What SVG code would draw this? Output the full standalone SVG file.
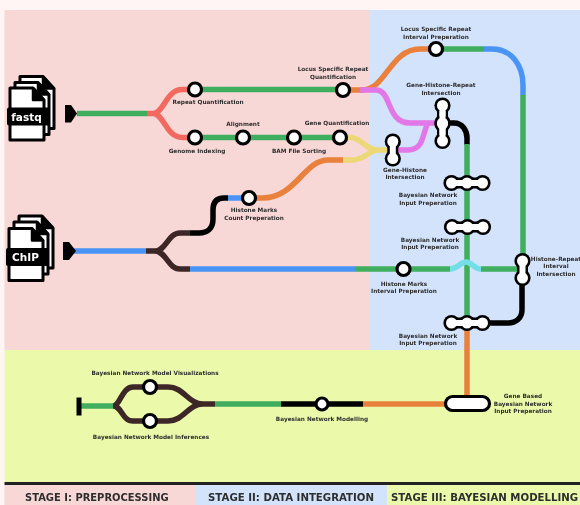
<svg xmlns="http://www.w3.org/2000/svg" width="580" height="505" viewBox="0 0 580 505">
<style>
text{font-family:"DejaVu Sans",sans-serif;font-weight:bold;fill:#2e2e2e;font-size:5.75px;text-anchor:middle}
.st{font-size:10.2px;text-anchor:start}
.fl{font-size:10.5px;fill:#fff}
path.l{fill:none;stroke-width:5.5}
.g{stroke:#41ae5f}.r{stroke:#f26a5f}.o{stroke:#e9803a}.b{stroke:#4a94f5}.k{stroke:#000}.m{stroke:#e277e8}.y{stroke:#ecd877}.d{stroke:#3d2828}.c{stroke:#72dfe6}
.n{fill:#fff;stroke:#000;stroke-width:3.2}
.kf{fill:#000}
.nf{fill:#fff}
.doc{fill:#fff;stroke:#000;stroke-width:3;stroke-linejoin:round}
</style>
<defs>
<filter id="soft" x="0" y="0" width="100%" height="100%"><feGaussianBlur stdDeviation="0.45"/></filter>
<g id="page"><path class="doc" d="M0 0H23L34 12V52H0Z"/><path d="M23 0L34 12H23Z" fill="#000" stroke="#000" stroke-width="2.500" stroke-linejoin="round"/></g>
<g id="n3h">
<circle cx="-15.500" r="8.100" class="kf"/><circle r="8.100" class="kf"/><circle cx="15.500" r="8.100" class="kf"/><rect x="-15" y="-5.500" width="30" height="11" class="kf"/>
<circle cx="-15.500" r="5.500" class="nf"/><circle r="5.500" class="nf"/><circle cx="15.500" r="5.500" class="nf"/><rect x="-15" y="-3" width="30" height="6" class="nf"/>
</g>
<g id="n2v">
<circle cy="-8.500" r="8.100" class="kf"/><circle cy="8.500" r="8.100" class="kf"/><rect x="-5.500" y="-8" width="11" height="16" class="kf"/>
<circle cy="-8.500" r="5.500" class="nf"/><circle cy="8.500" r="5.500" class="nf"/><rect x="-3" y="-8" width="6" height="16" class="nf"/>
</g>
<g id="n3v">
<use href="#n2v" y="-9"/><use href="#n2v" y="9.500"/>
<rect x="-3" y="-12" width="6" height="24" class="nf"/>
<circle r="5.500" class="nf"/>
</g>
</defs>
<g filter="url(#soft)">
<rect width="580" height="505" fill="#fff5f5"/>
<rect x="4.500" y="10" width="365" height="340" fill="#f8d7d7"/>
<rect x="369" y="10" width="211" height="340" fill="#d3e3fb"/>
<rect x="4.500" y="350" width="575.500" height="132" fill="#ebf9ab"/>
<rect x="4.500" y="482" width="575.500" height="3" fill="#222"/>
<rect x="4.500" y="485" width="192" height="20" fill="#f8d7d7"/>
<rect x="196" y="485" width="191" height="20" fill="#d3e3fb"/>
<rect x="387" y="485" width="193" height="20" fill="#ebf9ab"/>

<g id="connectors">
<path class="l g" d="M77 113.500H147"/>
<path class="l r" d="M147 113.500H153C164 113.500 166 89.500 182 89.500H195M153 113.500C164 113.500 166 137.500 182 137.500H195"/>
<path class="l g" d="M195 89.500H343M195 137.500H340"/>
<path class="l o" d="M343 90H362C386 90 390 49 420 49H437"/>
<path class="l g" d="M437 49H484"/>
<path class="l b" d="M484 49H492C512 49 523 66 523 85V95"/>
<path class="l g" d="M523 95V260"/>
<path class="l m" d="M360 90H376C392 90 386 123 410 123H442"/>
<path class="l m" d="M393 150H408C424 150 422 134 428 123"/>
<path class="l k" d="M442 123H454C462 123 467 130 467 138V145"/>
<path class="l g" d="M467 144V331"/>
<path class="l y" d="M340 137.500H350C362 137.500 365 150 378 150H393"/>
<path class="l y" d="M342 160H352C366 160 368 150 378 150"/>
<path class="l o" d="M249 198H262C296 198 304 160 328 160H343"/>
<path class="l b" d="M228 198H249"/>
<path class="l k" d="M190 233H199C208 233 213 228 213 219V210C213 203 216 198 224 198H228"/>
<path class="l b" d="M74 251H146"/>
<path class="l d" d="M146 251H155C166 251 168 233 180 233H190M155 251C166 251 168 269 180 269H190"/>
<path class="l b" d="M190 269H355"/>
<path class="l g" d="M355 269H450M481 269H522"/>
<path class="l c" d="M450 269C458 269 460 262 466 262C472 262 474 269 481 269"/>
<path class="l k" d="M522 279V310C522 318 516 323 508 323H488"/>
<path class="l o" d="M467 330V400"/>
<path class="l o" d="M445 404H363"/>
<path class="l k" d="M281 404H363"/>
<path class="l g" d="M215 404H281"/>
<path class="l d" d="M215 404H203C188 404 184 387 168 387H133C122 387 120 406 113 406M203 404C188 404 184 421 168 421H133C122 421 122 406 113 406"/>
<path class="l g" d="M80 406H113"/>
</g>

<g id="fastq-input">
<use href="#page" x="20" y="76.500"/>
<use href="#page" x="15" y="82.500"/>
<use href="#page" x="10" y="88"/>
<rect x="7" y="107.500" width="43" height="18" rx="2" fill="#000"/>
<text class="fl" x="26.500" y="120.500">fastq</text>
<path d="M65 105H71L77 113.500L71 122.500H65Z" fill="#000"/>
</g>
<g id="chip-input">
<use href="#page" x="19" y="216"/>
<use href="#page" x="14" y="222"/>
<use href="#page" x="9" y="228.500"/>
<rect x="6" y="248" width="43" height="18" rx="2" fill="#000"/>
<text class="fl" x="25.500" y="261">ChIP</text>
<path d="M63 242H69L76 251L69 260H63Z" fill="#000"/>
</g>

<g id="n-repeat-quant"><circle class="n" cx="195" cy="89.500" r="6.500"/><text x="208" y="104">Repeat Quantification</text></g>
<g id="n-genome-index"><circle class="n" cx="195" cy="137.500" r="6.500"/><text x="197" y="153">Genome Indexing</text></g>
<g id="n-alignment"><circle class="n" cx="243" cy="137.500" r="6.500"/><text x="243" y="126">Alignment</text></g>
<g id="n-bam"><circle class="n" cx="294" cy="137.500" r="6.500"/><text x="299" y="153">BAM File Sorting</text></g>
<g id="n-gene-quant"><circle class="n" cx="340" cy="137.500" r="6.500"/><text x="337" y="125">Gene Quantification</text></g>
<g id="n-lsr-quant"><circle class="n" cx="343" cy="90" r="6.500"/><text x="333" y="71">Locus Specific Repeat</text><text x="333" y="78.500">Quantification</text></g>
<g id="n-lsr-interval"><circle class="n" cx="436" cy="49" r="6.500"/><text x="436" y="31">Locus Specific Repeat</text><text x="436" y="38.500">Interval Preperation</text></g>
<g id="n-ghr"><use href="#n3v" x="442.500" y="123"/><text x="441" y="87">Gene-Histone-Repeat</text><text x="441" y="94.500">Intersection</text></g>
<g id="n-gh"><use href="#n2v" x="392.800" y="150"/><text x="405" y="172">Gene-Histone</text><text x="405" y="179">Intersection</text></g>
<g id="n-bn1"><use href="#n3h" x="467" y="183"/><text x="428" y="197">Bayesian Network</text><text x="428" y="204.500">Input Preperation</text></g>
<g id="n-bn2"><use href="#n3h" x="467.500" y="227"/><text x="430" y="241.500">Bayesian Network</text><text x="430" y="249">Input Preperation</text></g>
<g id="n-bn3"><use href="#n3h" x="467" y="323"/><text x="428" y="338">Bayesian Network</text><text x="428" y="345">Input Preperation</text></g>
<g id="n-hm-count"><circle class="n" cx="249" cy="198" r="6.500"/><text x="254" y="212">Histone Marks</text><text x="254" y="219.500">Count Preperation</text></g>
<g id="n-hm-interval"><circle class="n" cx="403.500" cy="269" r="6.500"/><text x="404" y="285.500">Histone Marks</text><text x="404" y="293">Interval Preperation</text></g>
<g id="n-hr"><use href="#n2v" x="522.500" y="269.500"/><text x="556" y="260.500">Histone-Repeat</text><text x="556" y="268">Interval</text><text x="556" y="275.500">Intersection</text></g>
<g id="n-gene-based"><rect class="n" x="445.500" y="396.500" width="44" height="14" rx="7"/><text x="523" y="398">Gene Based</text><text x="523" y="405.500">Bayesian Network</text><text x="523" y="412.500">Input Preperation</text></g>
<g id="n-modelling"><circle class="n" cx="322" cy="404" r="6"/><text x="322" y="420.500">Bayesian Network Modelling</text></g>
<g id="n-vis"><circle class="n" cx="150" cy="387" r="6.500"/><text x="155" y="374.500">Bayesian Network Model Visualizations</text></g>
<g id="n-inf"><circle class="n" cx="150" cy="421" r="6.500"/><text x="151" y="439">Bayesian Network Model Inferences</text></g>
<g id="end"><rect x="76.500" y="397.500" width="5" height="18" fill="#000"/></g>

<g id="legend">
<text class="st" x="25" y="501" style="font-size:9.950px">STAGE I: PREPROCESSING</text>
<text class="st" x="208" y="501">STAGE II: DATA INTEGRATION</text>
<text class="st" x="391" y="501">STAGE III: BAYESIAN MODELLING</text>
</g>
</g>
</svg>
